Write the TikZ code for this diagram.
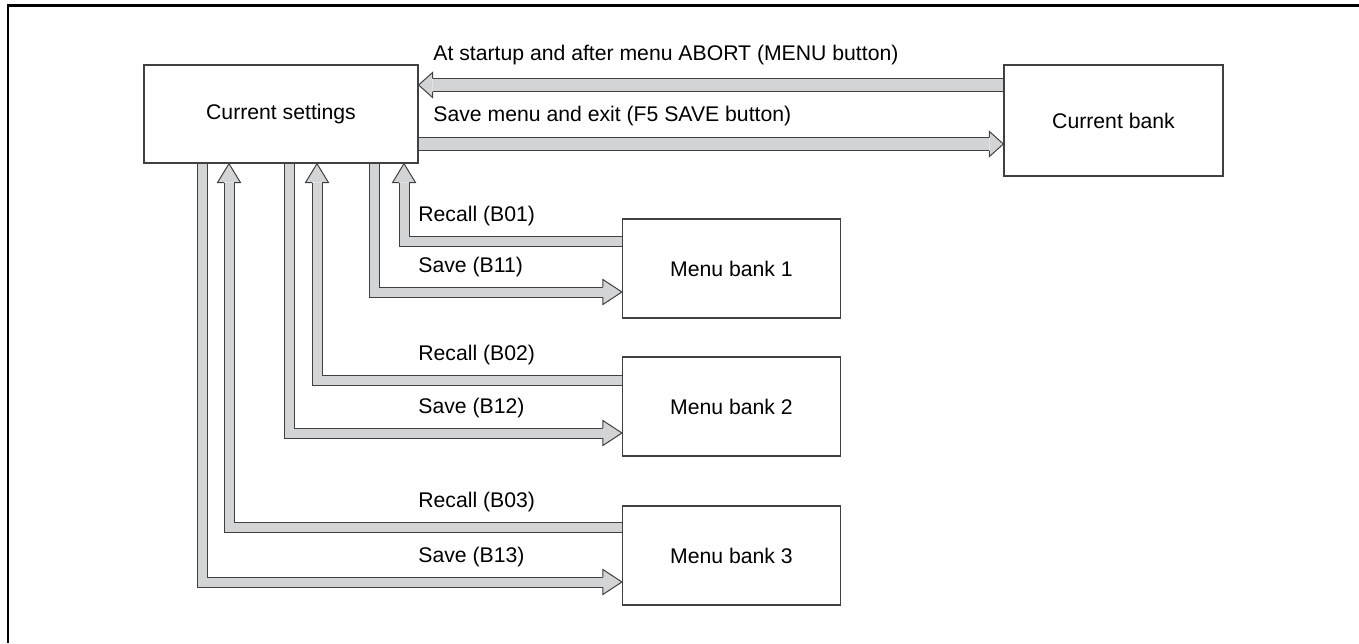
\documentclass[tikz,border=0pt]{standalone}
\usepackage{fontspec}
\setmainfont{Liberation Sans}
\usetikzlibrary{calc}
\definecolor{pipegray}{RGB}{211,212,214}
\definecolor{edgegray}{RGB}{64,64,64}

% hollow arrow heads: tip, length, half width, edge offset
\newcommand{\headE}[4]{%
  \fill[pipegray] #1 -- ++(-#2,-#3) -- ++(0,2*#3) -- cycle;
  \draw[edgegray, line width=0.5pt] #1 ++(-#2,-#4) -- ++(0,#4-#3) -- #1 -- ++(-#2,#3) -- ++(0,#4-#3);}
\newcommand{\headW}[4]{%
  \fill[pipegray] #1 -- ++(#2,-#3) -- ++(0,2*#3) -- cycle;
  \draw[edgegray, line width=0.5pt] #1 ++(#2,-#4) -- ++(0,#4-#3) -- #1 -- ++(#2,#3) -- ++(0,#4-#3);}
\newcommand{\headN}[4]{%
  \fill[pipegray] #1 -- ++(-#3,#2) -- ++(2*#3,0) -- cycle;
  \draw[edgegray, line width=0.5pt] #1 ++(-#4,#2) -- ++(#4-#3,0) -- #1 -- ++(#3,#2) -- ++(#4-#3,0);}

\begin{document}
\begin{tikzpicture}[x=0.5pt, y=-0.5pt,
  box/.style={draw=edgegray, line width=0.6pt, fill=white, inner sep=0pt, minimum width=109pt, minimum height=49.5pt, font=\fontsize{10.6}{12}\selectfont},
  lbl/.style={anchor=west, inner sep=0pt, font=\fontsize{10.6}{12}\selectfont},
  pipe/.style={draw=edgegray, line width=0.5pt, double=pipegray, double distance=4.5pt},
  bigpipe/.style={draw=edgegray, line width=0.5pt, double=pipegray, double distance=6pt}
]
\useasboundingbox (0,0) rectangle (1359,643);
\draw[line width=1.2pt] (8,643) -- (8,5.5) -- (1359,5.5);

\node[box, minimum width=137pt, minimum height=49pt] (cs) at (281,114) {Current settings};
\node[box, minimum width=109.5pt, minimum height=55.5pt] (cb) at (1113.5,120.5) {Current bank};

% current settings <-> current bank
\coordinate (topl) at (0,85);
\coordinate (botl) at (0,144);
\draw[bigpipe, shorten >=7pt] (cb.west |- topl) -- (cs.east |- topl);
\headW{(cs.east |- topl)}{14}{12.5}{6.5}
\draw[bigpipe, shorten >=7pt] (cs.east |- botl) -- (cb.west |- botl);
\headE{(cb.west |- botl)}{14}{12.5}{6.5}
\node[lbl] at (433,55) {At startup and after menu ABORT (MENU button)};
\node[lbl] at (433,116) {Save menu and exit (F5 SAVE button)};

% menu banks
\foreach \i/\yb/\yr/\ys/\xr/\xs in {1/268.5/241/292/404/374, 2/406.5/380/433/317/289, 3/555.5/527/582/229/202}{
  \node[box] (mb\i) at (731.5,\yb) {Menu bank \i};
  \coordinate (r\i) at (\xr,\yr);
  \coordinate (s\i) at (\xs,\ys);
  \draw[pipe, shorten >=9.5pt] (mb\i.west |- r\i) -| (cs.south -| r\i);
  \headN{(cs.south -| r\i)}{19}{11.5}{5}
  \draw[pipe, shorten >=9.5pt] (cs.south -| s\i) |- (mb\i.west |- s\i);
  \headE{(mb\i.west |- s\i)}{19}{12.5}{5}
  \node[lbl] at (418,\yr-25) {Recall (B0\i)};
  \node[lbl] at (418,\ys-25) {Save (B1\i)};
}
\end{tikzpicture}
\end{document}
